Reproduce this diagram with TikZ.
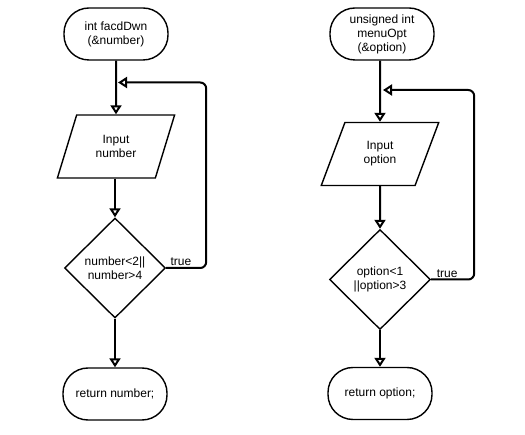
\documentclass[tikz,border=0pt]{standalone}
\usepackage{fontspec}
\setmainfont{Liberation Sans}
\usetikzlibrary{arrows.meta,shapes.geometric}
\begin{document}
\begin{tikzpicture}[x=1pt,y=-1pt,
    font=\fontsize{12}{14}\selectfont,
    term/.style={draw, line width=1.4pt, rounded corners=25pt, minimum width=104pt, minimum height=52pt, align=center, inner sep=1pt},
    io/.style={draw, line width=1.4pt, trapezium, trapezium stretches=true, trapezium left angle=66, trapezium right angle=114, minimum width=118pt, minimum height=63pt, align=center, inner sep=0pt},
    decide/.style={draw, line width=1.4pt, diamond, minimum width=101pt, minimum height=100pt, align=center, inner sep=0pt},
    flow/.style={line width=2pt, -{Triangle[open, length=9pt, width=11pt, line width=2pt]}}]
        \useasboundingbox (0,0) rectangle (525,435);
        % left chart
        \node[term] (fstart) at (116,34) {int facdDwn\\(\&number)};
        \node[io] (fin) at (116,146.5) {Input\\number};
        \node[decide] (fdec) at (115,268) {number<2||\\number>4};
        \node[term] (fret) at (115,394) {return number;};
        \coordinate (fjoin) at (118,82.5);
        \draw[flow] (fstart) -- (fin);
        \draw[flow] (fin.south -| fdec.north) -- (fdec);
        \draw[flow] (fdec) -- (fret);
        \draw[flow, rounded corners=6pt] (fdec.east) -- node[pos=0.37, above, inner sep=1pt] {true} ++(40,0) |- (fjoin);
        % right chart
        \node[term] (mstart) at (382,34) {unsigned int\\menuOpt\\(\&option)};
        \node[io] (min) at (380,154) {Input\\option};
        \node[decide] (mdec) at (380,279.5) {option<1\\||option>3};
        \node[term] (mret) at (380,393.5) {return option;};
        \coordinate (mjoin) at (383,90);
        \draw[flow] (mstart.south -| min.north) -- (min);
        \draw[flow] (min) -- (mdec);
        \draw[flow] (mdec) -- (mret);
        \draw[flow, rounded corners=6pt] (mdec.east) -- node[pos=0.37, above, inner sep=1pt] {true} ++(43,0) |- (mjoin);
\end{tikzpicture}
\end{document}
